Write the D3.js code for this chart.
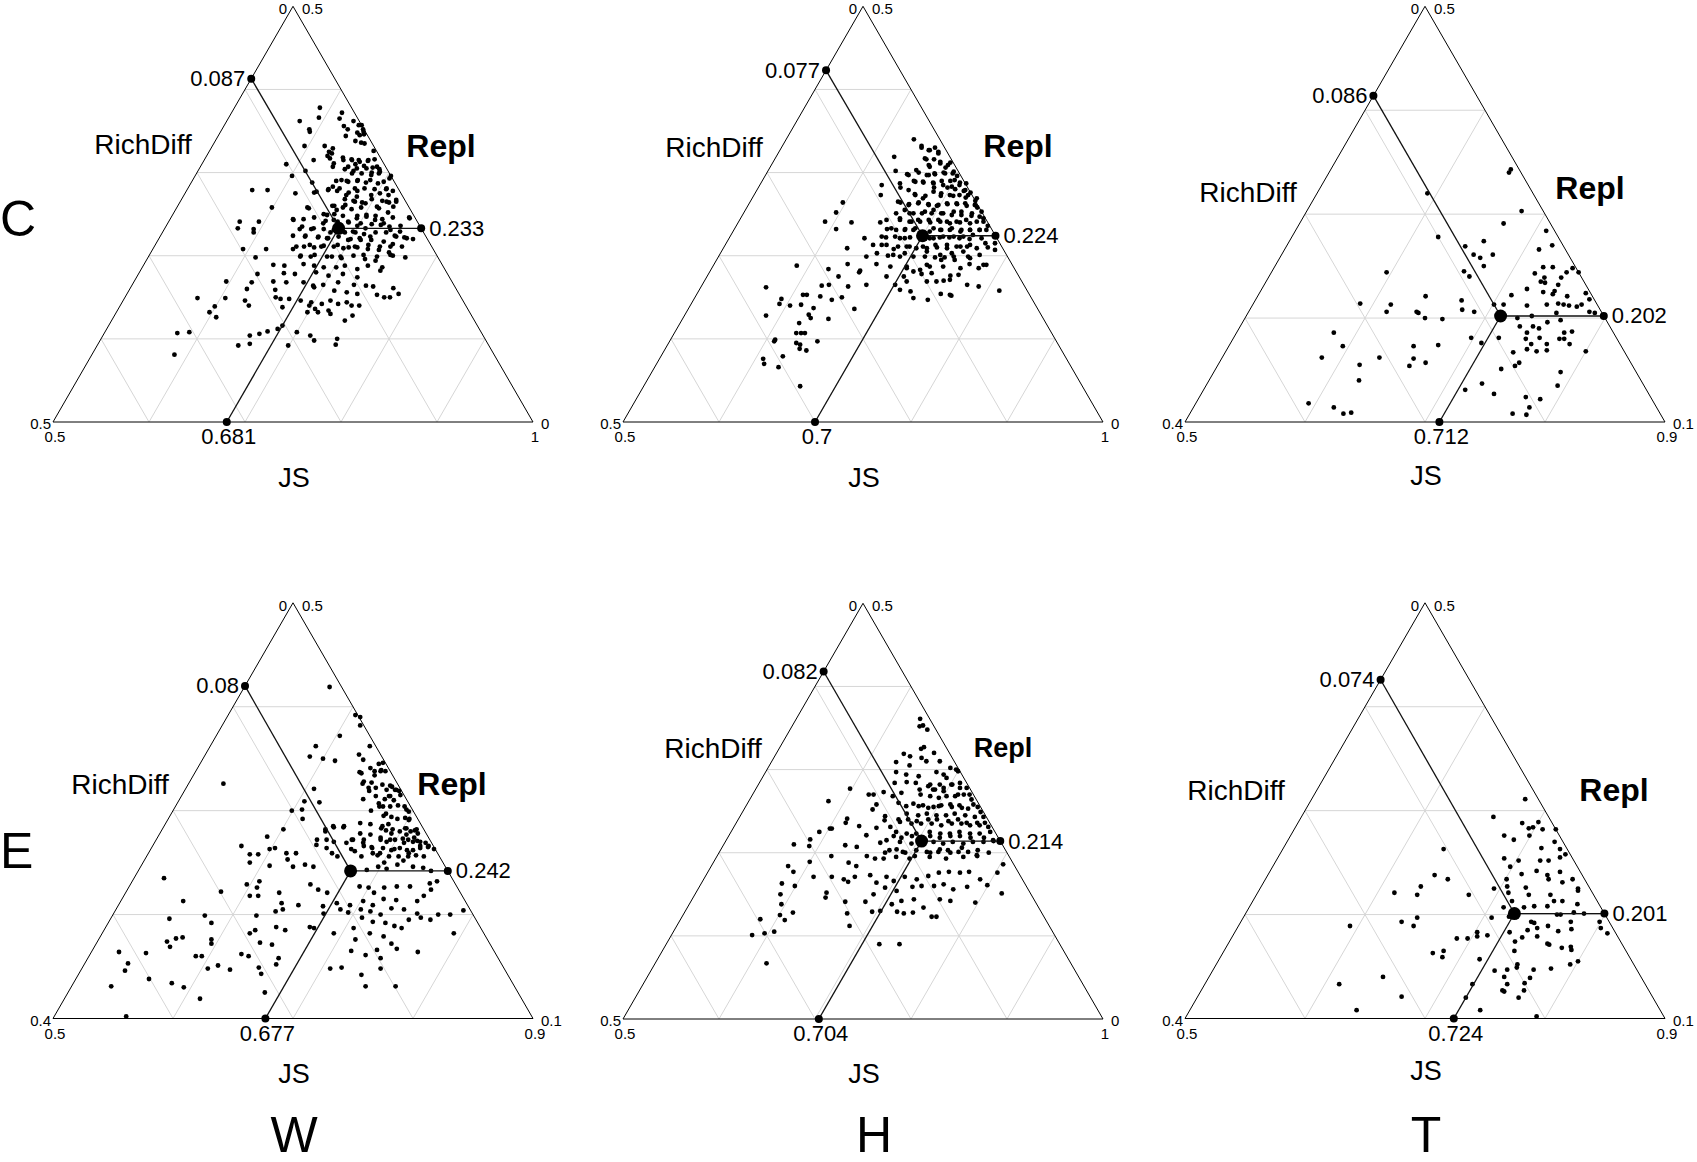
<!DOCTYPE html>
<html>
<head>
<meta charset="utf-8">
<script src="https://cdn.jsdelivr.net/npm/d3@7"></script>
<style>
  body { margin: 0; background: #fff; }
  svg { display: block; }
</style>
</head>
<body>
<svg id="chart" width="1697" height="1162"></svg>
<script>
// ---- data: each point is [JS, Repl]; RichDiff = 1 - JS - Repl ----
var rowNames = ["C", "E"];
var colNames = ["W", "H", "T"];
var axisNames = ["JS", "RichDiff", "Repl"];

var jsLimits   = [[0.5, 1], [0.5, 1], [0.5, 0.9], [0.5, 0.9], [0.5, 1], [0.5, 0.9]];
var richLimits = [[0, 0.5], [0, 0.5], [0, 0.4], [0, 0.4], [0, 0.5], [0, 0.4]];
var replLimits = [[0, 0.5], [0, 0.5], [0.1, 0.5], [0.1, 0.5], [0, 0.5], [0.1, 0.5]];

var meanJS   = [0.681, 0.7, 0.712, 0.677, 0.704, 0.724];
var meanRich = [0.087, 0.077, 0.086, 0.08, 0.082, 0.074];
var meanRepl = [0.233, 0.224, 0.202, 0.242, 0.214, 0.201];

var ptsCW = [[0.589,0.378],[0.576,0.362],[0.594,0.366],[0.591,0.352],[0.615,0.372],[0.616,0.365],[0.632,0.362],[0.640,0.357],[0.647,0.352],[0.625,0.356],[0.631,0.352],[0.643,0.348],[0.651,0.346],[0.633,0.344],[0.646,0.338],[0.653,0.336],[0.596,0.332],[0.617,0.332],[0.627,0.329],[0.625,0.325],[0.671,0.326],[0.626,0.320],[0.643,0.318],[0.653,0.316],[0.661,0.315],[0.671,0.314],[0.677,0.316],[0.614,0.315],[0.637,0.311],[0.660,0.310],[0.670,0.308],[0.680,0.306],[0.688,0.304],[0.588,0.310],[0.612,0.302],[0.652,0.304],[0.662,0.302],[0.682,0.300],[0.690,0.299],[0.704,0.296],[0.650,0.290],[0.661,0.290],[0.672,0.290],[0.682,0.288],[0.700,0.289],[0.647,0.280],[0.657,0.278],[0.670,0.276],[0.678,0.278],[0.695,0.280],[0.707,0.280],[0.715,0.278],[0.634,0.276],[0.615,0.275],[0.626,0.288],[0.601,0.296],[0.568,0.279],[0.584,0.279],[0.599,0.258],[0.670,0.268],[0.680,0.266],[0.690,0.264],[0.698,0.268],[0.710,0.266],[0.718,0.264],[0.725,0.265],[0.661,0.260],[0.673,0.258],[0.683,0.256],[0.692,0.258],[0.711,0.257],[0.723,0.252],[0.636,0.258],[0.657,0.250],[0.668,0.250],[0.678,0.248],[0.693,0.248],[0.702,0.249],[0.712,0.248],[0.721,0.244],[0.731,0.246],[0.748,0.246],[0.628,0.244],[0.639,0.244],[0.649,0.246],[0.574,0.241],[0.594,0.241],[0.663,0.242],[0.676,0.241],[0.688,0.240],[0.701,0.239],[0.713,0.238],[0.723,0.237],[0.733,0.235],[0.744,0.236],[0.576,0.233],[0.593,0.232],[0.595,0.228],[0.641,0.232],[0.653,0.232],[0.666,0.232],[0.682,0.230],[0.690,0.228],[0.701,0.228],[0.711,0.226],[0.722,0.228],[0.733,0.228],[0.744,0.224],[0.755,0.222],[0.765,0.220],[0.638,0.224],[0.651,0.224],[0.665,0.222],[0.675,0.221],[0.700,0.220],[0.711,0.219],[0.722,0.219],[0.736,0.217],[0.747,0.214],[0.594,0.208],[0.618,0.208],[0.646,0.208],[0.656,0.211],[0.667,0.210],[0.676,0.212],[0.690,0.213],[0.703,0.210],[0.712,0.210],[0.724,0.208],[0.736,0.207],[0.748,0.204],[0.612,0.198],[0.658,0.200],[0.669,0.199],[0.691,0.199],[0.702,0.197],[0.713,0.200],[0.727,0.196],[0.739,0.194],[0.768,0.198],[0.754,0.200],[0.635,0.189],[0.647,0.188],[0.666,0.190],[0.678,0.188],[0.689,0.186],[0.702,0.186],[0.710,0.188],[0.725,0.184],[0.734,0.188],[0.750,0.186],[0.624,0.178],[0.651,0.179],[0.663,0.178],[0.684,0.180],[0.699,0.176],[0.713,0.178],[0.730,0.174],[0.750,0.182],[0.596,0.169],[0.623,0.168],[0.645,0.169],[0.659,0.168],[0.677,0.168],[0.689,0.164],[0.699,0.165],[0.713,0.168],[0.731,0.165],[0.744,0.164],[0.752,0.163],[0.774,0.161],[0.622,0.160],[0.652,0.159],[0.691,0.162],[0.714,0.158],[0.728,0.156],[0.740,0.154],[0.761,0.153],[0.770,0.150],[0.776,0.150],[0.783,0.154],[0.576,0.149],[0.605,0.149],[0.627,0.146],[0.657,0.150],[0.663,0.148],[0.672,0.148],[0.685,0.146],[0.697,0.144],[0.709,0.142],[0.716,0.146],[0.726,0.142],[0.734,0.144],[0.599,0.139],[0.634,0.140],[0.670,0.138],[0.697,0.140],[0.705,0.136],[0.720,0.134],[0.741,0.140],[0.749,0.140],[0.597,0.132],[0.607,0.126],[0.699,0.132],[0.710,0.132],[0.724,0.130],[0.743,0.122],[0.748,0.128],[0.681,0.116],[0.678,0.112],[0.576,0.107],[0.588,0.108],[0.653,0.104],[0.662,0.106],[0.669,0.109],[0.700,0.108],[0.716,0.104],[0.723,0.098],[0.746,0.100],[0.647,0.092],[0.658,0.094],[0.699,0.092],[0.748,0.093],[0.586,0.081],[0.663,0.260],[0.681,0.234],[0.675,0.228],[0.699,0.236]];
// denser core, read from a closer look
var ptsCWcore = [[0.643,0.357],[0.647,0.345],[0.649,0.349],[0.593,0.349],[0.657,0.335],[0.629,0.323],[0.630,0.317],[0.645,0.315],[0.654,0.315],[0.663,0.313],[0.671,0.315],[0.638,0.307],[0.654,0.307],[0.664,0.305],[0.674,0.305],[0.684,0.307],[0.662,0.299],[0.672,0.299],[0.683,0.297],[0.690,0.301],[0.704,0.293],[0.655,0.291],[0.663,0.289],[0.672,0.291],[0.685,0.291],[0.695,0.287],[0.650,0.283],[0.658,0.281],[0.674,0.281],[0.684,0.281],[0.707,0.281],[0.636,0.277],[0.647,0.279],[0.669,0.273],[0.681,0.271],[0.695,0.273],[0.703,0.275],[0.713,0.273],[0.724,0.267],[0.638,0.257],[0.661,0.249],[0.668,0.255],[0.674,0.261],[0.682,0.265],[0.694,0.263],[0.708,0.259],[0.715,0.265],[0.725,0.259],[0.662,0.239],[0.671,0.243],[0.681,0.237],[0.687,0.241],[0.694,0.245],[0.703,0.247],[0.714,0.243],[0.725,0.239],[0.749,0.245],[0.629,0.243],[0.642,0.235],[0.655,0.233],[0.677,0.231],[0.688,0.229],[0.698,0.229],[0.709,0.233],[0.736,0.231],[0.747,0.229],[0.651,0.223],[0.665,0.223],[0.676,0.221],[0.686,0.223],[0.698,0.219],[0.709,0.221],[0.719,0.223],[0.746,0.223],[0.758,0.221],[0.648,0.211],[0.661,0.213],[0.674,0.211],[0.687,0.211],[0.698,0.209],[0.709,0.211],[0.722,0.213],[0.735,0.211],[0.746,0.211],[0.758,0.211],[0.658,0.199],[0.672,0.201],[0.686,0.199],[0.700,0.199],[0.723,0.201],[0.738,0.199],[0.751,0.201]];

var ptsCH = [[0.633,0.340],[0.645,0.332],[0.655,0.327],[0.660,0.330],[0.666,0.325],[0.623,0.319],[0.656,0.317],[0.666,0.316],[0.674,0.313],[0.685,0.312],[0.664,0.309],[0.683,0.306],[0.633,0.302],[0.647,0.298],[0.658,0.300],[0.670,0.297],[0.676,0.298],[0.684,0.300],[0.694,0.301],[0.700,0.296],[0.658,0.290],[0.669,0.288],[0.679,0.288],[0.687,0.290],[0.696,0.290],[0.707,0.288],[0.714,0.287],[0.627,0.285],[0.648,0.282],[0.683,0.282],[0.697,0.282],[0.706,0.280],[0.716,0.278],[0.724,0.276],[0.632,0.273],[0.667,0.274],[0.679,0.272],[0.695,0.272],[0.708,0.272],[0.722,0.270],[0.734,0.266],[0.597,0.264],[0.657,0.264],[0.667,0.262],[0.676,0.264],[0.687,0.262],[0.697,0.260],[0.707,0.262],[0.717,0.262],[0.728,0.260],[0.740,0.258],[0.596,0.252],[0.659,0.251],[0.673,0.251],[0.686,0.251],[0.696,0.251],[0.706,0.251],[0.718,0.249],[0.728,0.249],[0.739,0.248],[0.748,0.247],[0.590,0.241],[0.618,0.240],[0.648,0.240],[0.667,0.243],[0.680,0.241],[0.689,0.241],[0.700,0.240],[0.710,0.241],[0.721,0.239],[0.731,0.240],[0.742,0.239],[0.755,0.241],[0.606,0.232],[0.659,0.232],[0.669,0.231],[0.678,0.232],[0.687,0.231],[0.705,0.229],[0.715,0.231],[0.725,0.231],[0.737,0.229],[0.746,0.231],[0.756,0.231],[0.763,0.231],[0.641,0.221],[0.663,0.222],[0.678,0.221],[0.688,0.222],[0.709,0.221],[0.719,0.222],[0.729,0.222],[0.740,0.221],[0.751,0.220],[0.763,0.221],[0.780,0.215],[0.629,0.209],[0.654,0.213],[0.663,0.213],[0.678,0.208],[0.690,0.211],[0.701,0.209],[0.712,0.209],[0.722,0.210],[0.733,0.209],[0.742,0.211],[0.753,0.211],[0.764,0.209],[0.775,0.210],[0.654,0.199],[0.663,0.203],[0.676,0.200],[0.689,0.199],[0.703,0.199],[0.715,0.199],[0.726,0.198],[0.736,0.198],[0.745,0.199],[0.763,0.197],[0.771,0.201],[0.587,0.188],[0.622,0.184],[0.639,0.190],[0.656,0.182],[0.669,0.190],[0.685,0.187],[0.703,0.185],[0.718,0.183],[0.726,0.187],[0.740,0.187],[0.759,0.185],[0.766,0.190],[0.784,0.189],[0.778,0.185],[0.637,0.175],[0.656,0.180],[0.687,0.175],[0.705,0.175],[0.712,0.181],[0.722,0.178],[0.732,0.179],[0.753,0.176],[0.761,0.177],[0.625,0.164],[0.632,0.165],[0.653,0.163],[0.671,0.165],[0.701,0.165],[0.711,0.169],[0.732,0.169],[0.742,0.169],[0.749,0.170],[0.755,0.171],[0.776,0.165],[0.789,0.163],[0.568,0.162],[0.611,0.153],[0.615,0.153],[0.630,0.151],[0.644,0.147],[0.653,0.150],[0.709,0.159],[0.721,0.157],[0.754,0.154],[0.764,0.153],[0.813,0.158],[0.591,0.148],[0.592,0.142],[0.615,0.141],[0.630,0.137],[0.629,0.129],[0.604,0.140],[0.728,0.149],[0.744,0.147],[0.766,0.152],[0.673,0.136],[0.585,0.128],[0.633,0.125],[0.652,0.124],[0.624,0.119],[0.627,0.107],[0.632,0.107],[0.636,0.107],[0.609,0.099],[0.633,0.095],[0.638,0.093],[0.654,0.097],[0.609,0.097],[0.640,0.088],[0.648,0.086],[0.608,0.076],[0.612,0.070],[0.627,0.079],[0.629,0.066],[0.663,0.043]];
var ptsCHcore = [[0.646,0.330],[0.656,0.327],[0.658,0.316],[0.667,0.323],[0.675,0.311],[0.684,0.309],[0.666,0.307],[0.654,0.303],[0.649,0.297],[0.668,0.297],[0.675,0.299],[0.686,0.299],[0.694,0.299],[0.700,0.291],[0.660,0.289],[0.668,0.289],[0.680,0.287],[0.691,0.285],[0.701,0.283],[0.708,0.285],[0.717,0.279],[0.645,0.287],[0.658,0.279],[0.685,0.277],[0.694,0.275],[0.704,0.273],[0.714,0.273],[0.723,0.273],[0.734,0.269],[0.668,0.273],[0.678,0.269],[0.654,0.265],[0.667,0.261],[0.676,0.263],[0.688,0.261],[0.698,0.261],[0.706,0.263],[0.716,0.263],[0.725,0.263],[0.736,0.261],[0.747,0.253],[0.666,0.255],[0.677,0.251],[0.688,0.253],[0.696,0.255],[0.708,0.251],[0.718,0.253],[0.726,0.253],[0.738,0.251],[0.753,0.245],[0.653,0.243],[0.666,0.245],[0.678,0.241],[0.686,0.243],[0.697,0.243],[0.707,0.243],[0.717,0.241],[0.727,0.241],[0.736,0.243],[0.748,0.241],[0.762,0.236],[0.663,0.233],[0.678,0.231],[0.688,0.233],[0.707,0.233],[0.716,0.231],[0.726,0.233],[0.737,0.231],[0.746,0.231],[0.756,0.231],[0.658,0.223],[0.672,0.223],[0.683,0.221],[0.713,0.221],[0.722,0.223],[0.733,0.223],[0.743,0.223],[0.752,0.225],[0.668,0.213],[0.681,0.211],[0.693,0.211],[0.707,0.211],[0.719,0.213],[0.731,0.213],[0.746,0.211],[0.755,0.213],[0.770,0.215],[0.681,0.201],[0.692,0.203],[0.714,0.205],[0.730,0.201],[0.741,0.203],[0.752,0.205],[0.784,0.207],[0.702,0.187],[0.722,0.189],[0.734,0.195],[0.748,0.195],[0.760,0.199],[0.781,0.189]];

var ptsCT = [[0.650,0.340],[0.650,0.343],[0.592,0.320],[0.679,0.303],[0.670,0.291],[0.622,0.278],[0.649,0.269],[0.662,0.274],[0.709,0.284],[0.712,0.266],[0.721,0.270],[0.660,0.261],[0.667,0.258],[0.676,0.261],[0.674,0.250],[0.660,0.245],[0.667,0.240],[0.596,0.244],[0.724,0.249],[0.732,0.249],[0.749,0.248],[0.756,0.244],[0.720,0.243],[0.730,0.239],[0.746,0.244],[0.744,0.239],[0.729,0.235],[0.733,0.234],[0.745,0.232],[0.721,0.228],[0.736,0.225],[0.745,0.226],[0.745,0.223],[0.772,0.224],[0.758,0.221],[0.711,0.222],[0.640,0.221],[0.672,0.217],[0.778,0.218],[0.589,0.214],[0.615,0.213],[0.701,0.213],[0.709,0.213],[0.729,0.212],[0.745,0.213],[0.754,0.214],[0.759,0.213],[0.764,0.212],[0.771,0.211],[0.774,0.213],[0.615,0.206],[0.640,0.206],[0.642,0.205],[0.677,0.208],[0.688,0.206],[0.757,0.205],[0.784,0.206],[0.789,0.205],[0.650,0.200],[0.665,0.199],[0.727,0.200],[0.738,0.202],[0.754,0.196],[0.764,0.198],[0.733,0.192],[0.744,0.192],[0.742,0.186],[0.750,0.190],[0.773,0.186],[0.779,0.187],[0.581,0.186],[0.721,0.181],[0.698,0.181],[0.709,0.176],[0.744,0.180],[0.751,0.175],[0.755,0.181],[0.764,0.175],[0.772,0.180],[0.776,0.180],[0.783,0.175],[0.595,0.173],[0.654,0.173],[0.674,0.174],[0.740,0.167],[0.750,0.170],[0.759,0.168],[0.767,0.169],[0.800,0.168],[0.583,0.162],[0.631,0.162],[0.660,0.161],[0.750,0.157],[0.748,0.154],[0.618,0.155],[0.660,0.154],[0.672,0.157],[0.738,0.151],[0.789,0.148],[0.625,0.140],[0.718,0.131],[0.729,0.137],[0.744,0.127],[0.793,0.135],[0.772,0.124],[0.785,0.122],[0.594,0.118],[0.617,0.114],[0.628,0.108],[0.634,0.109],[0.780,0.114],[0.769,0.108],[0.781,0.107]];

var ptsEW = [[0.571,0.419],[0.606,0.392],[0.611,0.390],[0.615,0.382],[0.603,0.372],[0.633,0.362],[0.588,0.362],[0.588,0.352],[0.600,0.350],[0.611,0.348],[0.628,0.354],[0.634,0.349],[0.649,0.345],[0.652,0.346],[0.649,0.338],[0.637,0.337],[0.654,0.338],[0.645,0.328],[0.652,0.327],[0.669,0.324],[0.675,0.320],[0.679,0.319],[0.674,0.314],[0.670,0.304],[0.654,0.319],[0.662,0.314],[0.671,0.311],[0.529,0.326],[0.607,0.321],[0.605,0.309],[0.618,0.308],[0.653,0.311],[0.694,0.301],[0.665,0.300],[0.678,0.295],[0.691,0.292],[0.701,0.292],[0.599,0.300],[0.607,0.301],[0.612,0.292],[0.642,0.284],[0.650,0.284],[0.662,0.288],[0.671,0.287],[0.682,0.283],[0.692,0.282],[0.703,0.283],[0.712,0.282],[0.636,0.282],[0.601,0.282],[0.591,0.275],[0.574,0.266],[0.634,0.272],[0.663,0.272],[0.673,0.272],[0.686,0.274],[0.695,0.272],[0.708,0.269],[0.714,0.274],[0.723,0.266],[0.730,0.266],[0.736,0.263],[0.603,0.264],[0.599,0.263],[0.592,0.258],[0.585,0.258],[0.615,0.259],[0.623,0.259],[0.636,0.267],[0.646,0.264],[0.653,0.259],[0.659,0.256],[0.667,0.263],[0.676,0.266],[0.684,0.264],[0.693,0.259],[0.703,0.263],[0.717,0.259],[0.731,0.256],[0.701,0.250],[0.713,0.248],[0.716,0.252],[0.589,0.250],[0.607,0.247],[0.619,0.253],[0.627,0.246],[0.636,0.248],[0.644,0.246],[0.690,0.243],[0.698,0.246],[0.706,0.244],[0.727,0.246],[0.736,0.245],[0.744,0.242],[0.525,0.235],[0.579,0.222],[0.597,0.229],[0.606,0.232],[0.607,0.226],[0.628,0.221],[0.650,0.229],[0.659,0.224],[0.668,0.221],[0.692,0.227],[0.700,0.226],[0.707,0.221],[0.713,0.226],[0.723,0.227],[0.734,0.227],[0.749,0.230],[0.754,0.232],[0.552,0.213],[0.605,0.218],[0.612,0.218],[0.635,0.211],[0.650,0.209],[0.671,0.208],[0.681,0.211],[0.693,0.209],[0.702,0.213],[0.712,0.209],[0.718,0.215],[0.729,0.214],[0.747,0.213],[0.750,0.218],[0.753,0.224],[0.704,0.205],[0.713,0.203],[0.723,0.200],[0.729,0.206],[0.740,0.205],[0.753,0.201],[0.549,0.196],[0.577,0.199],[0.586,0.192],[0.620,0.199],[0.634,0.203],[0.639,0.205],[0.670,0.188],[0.675,0.201],[0.687,0.205],[0.695,0.202],[0.709,0.197],[0.720,0.193],[0.731,0.192],[0.740,0.189],[0.747,0.187],[0.749,0.195],[0.758,0.197],[0.767,0.195],[0.771,0.200],[0.781,0.200],[0.790,0.204],[0.564,0.177],[0.569,0.178],[0.563,0.169],[0.558,0.174],[0.594,0.176],[0.596,0.172],[0.623,0.182],[0.626,0.185],[0.636,0.173],[0.647,0.171],[0.642,0.188],[0.651,0.185],[0.674,0.187],[0.693,0.182],[0.707,0.187],[0.714,0.176],[0.723,0.182],[0.736,0.179],[0.746,0.172],[0.753,0.167],[0.737,0.166],[0.793,0.182],[0.772,0.164],[0.523,0.164],[0.546,0.163],[0.536,0.153],[0.537,0.146],[0.561,0.138],[0.533,0.131],[0.582,0.134],[0.594,0.130],[0.589,0.160],[0.594,0.160],[0.605,0.148],[0.612,0.151],[0.624,0.147],[0.626,0.162],[0.633,0.160],[0.647,0.149],[0.652,0.143],[0.660,0.152],[0.659,0.158],[0.613,0.119],[0.664,0.125],[0.707,0.148],[0.716,0.149],[0.716,0.165],[0.730,0.161],[0.744,0.158],[0.749,0.148],[0.736,0.142],[0.745,0.131],[0.770,0.131],[0.560,0.102],[0.718,0.271],[0.706,0.277],[0.686,0.287]];
var ptsEWcore = [[0.654,0.339],[0.651,0.334],[0.644,0.341],[0.658,0.338],[0.639,0.336],[0.645,0.326],[0.652,0.322],[0.658,0.322],[0.662,0.325],[0.668,0.320],[0.671,0.323],[0.676,0.320],[0.682,0.315],[0.673,0.314],[0.679,0.310],[0.668,0.307],[0.673,0.304],[0.679,0.304],[0.685,0.305],[0.691,0.304],[0.697,0.299],[0.679,0.297],[0.685,0.294],[0.697,0.293],[0.701,0.291],[0.682,0.285],[0.687,0.281],[0.693,0.278],[0.699,0.280],[0.702,0.283],[0.708,0.280],[0.711,0.281],[0.715,0.278],[0.687,0.272],[0.693,0.270],[0.699,0.272],[0.705,0.273],[0.710,0.272],[0.715,0.270],[0.721,0.270],[0.726,0.269],[0.693,0.264],[0.701,0.262],[0.707,0.264],[0.714,0.262],[0.719,0.262],[0.724,0.264],[0.730,0.265],[0.692,0.257],[0.702,0.256],[0.710,0.256],[0.718,0.256],[0.724,0.257],[0.667,0.278],[0.676,0.277],[0.664,0.272],[0.674,0.269],[0.683,0.265],[0.687,0.259],[0.671,0.261],[0.679,0.256],[0.650,0.285],[0.641,0.285],[0.637,0.280],[0.642,0.272],[0.649,0.270],[0.660,0.269]];

var ptsEH = [[0.629,0.361],[0.633,0.352],[0.636,0.353],[0.643,0.348],[0.648,0.325],[0.650,0.327],[0.633,0.319],[0.641,0.316],[0.664,0.320],[0.654,0.314],[0.661,0.310],[0.630,0.309],[0.646,0.305],[0.675,0.310],[0.690,0.302],[0.697,0.300],[0.636,0.297],[0.648,0.294],[0.662,0.292],[0.678,0.297],[0.687,0.294],[0.692,0.290],[0.700,0.298],[0.641,0.284],[0.653,0.285],[0.663,0.284],[0.679,0.282],[0.689,0.282],[0.701,0.282],[0.709,0.284],[0.719,0.278],[0.635,0.273],[0.647,0.268],[0.654,0.272],[0.671,0.276],[0.685,0.276],[0.697,0.274],[0.714,0.270],[0.726,0.270],[0.621,0.270],[0.626,0.270],[0.598,0.277],[0.583,0.262],[0.634,0.252],[0.635,0.258],[0.651,0.244],[0.657,0.260],[0.667,0.256],[0.680,0.256],[0.691,0.254],[0.701,0.256],[0.712,0.258],[0.726,0.254],[0.736,0.258],[0.748,0.249],[0.613,0.241],[0.614,0.236],[0.603,0.229],[0.592,0.225],[0.630,0.232],[0.649,0.230],[0.653,0.239],[0.663,0.231],[0.667,0.240],[0.677,0.240],[0.687,0.238],[0.698,0.240],[0.707,0.240],[0.720,0.238],[0.729,0.240],[0.740,0.236],[0.751,0.236],[0.759,0.236],[0.587,0.216],[0.573,0.210],[0.590,0.208],[0.601,0.229],[0.627,0.209],[0.640,0.207],[0.643,0.221],[0.662,0.212],[0.672,0.220],[0.681,0.218],[0.691,0.220],[0.710,0.220],[0.721,0.218],[0.731,0.220],[0.741,0.220],[0.753,0.218],[0.767,0.218],[0.779,0.214],[0.619,0.196],[0.600,0.189],[0.641,0.188],[0.651,0.184],[0.656,0.196],[0.666,0.193],[0.673,0.200],[0.683,0.204],[0.694,0.200],[0.706,0.196],[0.720,0.200],[0.728,0.204],[0.741,0.200],[0.750,0.206],[0.771,0.196],[0.781,0.200],[0.580,0.184],[0.589,0.177],[0.613,0.171],[0.632,0.171],[0.646,0.168],[0.652,0.165],[0.656,0.171],[0.671,0.173],[0.682,0.164],[0.689,0.171],[0.699,0.166],[0.708,0.171],[0.722,0.168],[0.732,0.172],[0.741,0.176],[0.751,0.177],[0.763,0.176],[0.772,0.177],[0.788,0.168],[0.802,0.176],[0.803,0.186],[0.584,0.163],[0.599,0.160],[0.636,0.152],[0.638,0.146],[0.661,0.141],[0.682,0.141],[0.686,0.150],[0.694,0.158],[0.708,0.154],[0.722,0.159],[0.731,0.160],[0.744,0.160],[0.753,0.162],[0.766,0.156],[0.779,0.159],[0.799,0.161],[0.819,0.151],[0.589,0.150],[0.596,0.138],[0.601,0.125],[0.613,0.128],[0.609,0.119],[0.670,0.127],[0.695,0.129],[0.703,0.130],[0.711,0.138],[0.719,0.142],[0.731,0.144],[0.746,0.134],[0.758,0.144],[0.770,0.142],[0.797,0.140],[0.721,0.129],[0.729,0.127],[0.738,0.128],[0.760,0.123],[0.765,0.123],[0.583,0.120],[0.584,0.101],[0.596,0.103],[0.605,0.105],[0.680,0.112],[0.722,0.090],[0.743,0.090],[0.616,0.067]];
var ptsEHcore = [[0.678,0.280],[0.687,0.276],[0.695,0.278],[0.702,0.282],[0.712,0.278],[0.675,0.270],[0.686,0.268],[0.696,0.266],[0.703,0.268],[0.712,0.268],[0.720,0.270],[0.731,0.264],[0.673,0.259],[0.684,0.257],[0.696,0.255],[0.703,0.257],[0.715,0.255],[0.722,0.257],[0.733,0.253],[0.742,0.255],[0.672,0.247],[0.685,0.245],[0.693,0.247],[0.704,0.245],[0.714,0.245],[0.722,0.247],[0.734,0.245],[0.745,0.243],[0.754,0.243],[0.670,0.237],[0.683,0.235],[0.693,0.235],[0.704,0.235],[0.715,0.233],[0.725,0.235],[0.735,0.235],[0.745,0.233],[0.755,0.233],[0.765,0.231],[0.672,0.225],[0.684,0.223],[0.694,0.223],[0.707,0.225],[0.719,0.223],[0.729,0.223],[0.738,0.225],[0.750,0.223],[0.760,0.223],[0.770,0.225],[0.667,0.215],[0.682,0.213],[0.695,0.211],[0.717,0.213],[0.728,0.211],[0.737,0.213],[0.749,0.211],[0.758,0.213],[0.769,0.213],[0.778,0.215],[0.676,0.203],[0.691,0.201],[0.704,0.203],[0.716,0.201],[0.728,0.201],[0.737,0.203],[0.749,0.201],[0.759,0.201],[0.768,0.203],[0.675,0.193],[0.687,0.195],[0.702,0.193],[0.722,0.195],[0.740,0.193],[0.757,0.195],[0.770,0.197]];

var ptsET = [[0.678,0.311],[0.660,0.294],[0.687,0.288],[0.695,0.283],[0.698,0.284],[0.700,0.289],[0.707,0.282],[0.718,0.282],[0.678,0.276],[0.688,0.272],[0.699,0.276],[0.715,0.264],[0.723,0.270],[0.731,0.263],[0.738,0.258],[0.634,0.263],[0.689,0.254],[0.702,0.252],[0.720,0.252],[0.727,0.252],[0.735,0.255],[0.698,0.246],[0.711,0.239],[0.722,0.242],[0.733,0.238],[0.742,0.241],[0.639,0.238],[0.652,0.234],[0.701,0.234],[0.736,0.234],[0.749,0.231],[0.756,0.234],[0.705,0.227],[0.721,0.226],[0.765,0.225],[0.766,0.223],[0.633,0.227],[0.614,0.221],[0.634,0.219],[0.677,0.219],[0.695,0.225],[0.709,0.221],[0.727,0.219],[0.745,0.219],[0.751,0.213],[0.758,0.213],[0.772,0.210],[0.712,0.207],[0.716,0.213],[0.729,0.207],[0.737,0.208],[0.748,0.208],[0.773,0.202],[0.782,0.201],[0.760,0.200],[0.763,0.200],[0.707,0.197],[0.634,0.193],[0.645,0.197],[0.646,0.189],[0.593,0.189],[0.721,0.198],[0.742,0.193],[0.745,0.192],[0.743,0.185],[0.750,0.187],[0.758,0.189],[0.769,0.184],[0.775,0.193],[0.779,0.186],[0.799,0.193],[0.803,0.187],[0.811,0.182],[0.702,0.183],[0.704,0.179],[0.712,0.180],[0.688,0.177],[0.697,0.177],[0.729,0.183],[0.738,0.174],[0.742,0.178],[0.754,0.179],[0.766,0.172],[0.768,0.171],[0.780,0.168],[0.787,0.169],[0.789,0.166],[0.675,0.163],[0.683,0.165],[0.685,0.159],[0.717,0.157],[0.742,0.165],[0.735,0.146],[0.745,0.147],[0.751,0.152],[0.752,0.149],[0.767,0.147],[0.781,0.148],[0.795,0.152],[0.800,0.155],[0.746,0.140],[0.752,0.133],[0.768,0.139],[0.766,0.134],[0.751,0.127],[0.753,0.126],[0.769,0.127],[0.768,0.120],[0.723,0.133],[0.724,0.120],[0.612,0.133],[0.645,0.140],[0.670,0.121],[0.639,0.108],[0.742,0.108],[0.792,0.102]];

var panelPoints = [
  ptsCW.concat(ptsCWcore), ptsCH.concat(ptsCHcore), ptsCT,
  ptsEW.concat(ptsEWcore), ptsEH.concat(ptsEHcore), ptsET
];

// ---- layout (pixels) ----
var FONT = '"Liberation Sans", Arial, Helvetica, sans-serif';
var W = 480, H = W * Math.sqrt(3) / 2;
var layout = [
  {x: 53,  y: 422,    rich: [90, 154], repl: [388, 157], replSize: 32, js: 487},
  {x: 623, y: 422,    rich: [91, 157], repl: [395, 157], replSize: 32, js: 487},
  {x: 1185, y: 422,   rich: [63, 202], repl: [405, 199], replSize: 32, js: 485},
  {x: 53,  y: 1018.5, rich: [67, 794], repl: [399, 795], replSize: 32, js: 1083},
  {x: 623, y: 1019,   rich: [90, 758], repl: [380, 757], replSize: 27, js: 1083},
  {x: 1185, y: 1018.5, rich: [51, 800], repl: [429, 801], replSize: 32, js: 1080}
];

var svg = d3.select("#chart").style("font-family", FONT);
svg.append("rect").attr("width", 1697).attr("height", 1162).attr("fill", "#fff");

function drawPanel(i) {
  var L = layout[i];
  var jsLo = jsLimits[i][0], jsHi = jsLimits[i][1];
  var rLo = replLimits[i][0], rHi = replLimits[i][1];
  var step = 0.1, nDiv = Math.round((jsHi - jsLo) / step);

  // barycentric weights via d3 scales, then onto the page
  var u = d3.scaleLinear().domain([jsLo, jsHi]).range([0, 1]);
  var v = d3.scaleLinear().domain([rLo, rHi]).range([0, 1]);
  var xs = d3.scaleLinear().domain([0, 1]).range([L.x, L.x + W]);
  var ys = d3.scaleLinear().domain([0, 1]).range([L.y, L.y - H]);
  function pos(js, repl) { return [xs(u(js) + v(repl) / 2), ys(v(repl))]; }

  var g = svg.append("g");
  var line = d3.line();

  // grid
  var grid = [];
  d3.range(1, nDiv).forEach(function (k) {
    var r = rLo + k * step, j = jsLo + k * step, d = richLimits[i][0] + k * step;
    grid.push([pos(jsLo, r), pos(1 - r, r)]);
    grid.push([pos(j, rLo), pos(j, 1 - j)]);
    grid.push([pos(jsLo, 1 - jsLo - d), pos(1 - rLo - d, rLo)]);
  });
  g.selectAll("path.grid").data(grid).enter().append("path")
    .attr("class", "grid").attr("d", line)
    .attr("fill", "none").attr("stroke", "#d6d6d6").attr("stroke-width", 1);

  // triangle
  var A = pos(jsLo, rLo), B = pos(jsHi, rLo), T = pos(jsLo, rHi);
  g.append("path").attr("d", line([A, B, T]) + "Z")
    .attr("fill", "none").attr("stroke", "#000").attr("stroke-width", 1);

  // points
  g.selectAll("circle.pt").data(panelPoints[i]).enter().append("circle")
    .attr("class", "pt")
    .attr("cx", function (p) { return pos(p[0], p[1])[0]; })
    .attr("cy", function (p) { return pos(p[0], p[1])[1]; })
    .attr("r", 2.4).attr("fill", "#000");

  // mean and its projections on the three edges
  var M = pos(meanJS[i], meanRepl[i]);
  var eRich = pos(jsLo, 1 - jsLo - meanRich[i]);
  var eJS = pos(meanJS[i], rLo);
  var eRepl = pos(1 - meanRepl[i], meanRepl[i]);
  [eRich, eJS, eRepl].forEach(function (e) {
    g.append("path").attr("d", line([M, e]))
      .attr("stroke", "#111").attr("stroke-width", 1.3).attr("fill", "none");
    g.append("circle").attr("cx", e[0]).attr("cy", e[1]).attr("r", 4).attr("fill", "#000");
  });
  g.append("circle").attr("cx", M[0]).attr("cy", M[1]).attr("r", 6.5).attr("fill", "#000");

  g.append("text").attr("x", eRich[0] - 6).attr("y", eRich[1] + 7.5)
    .attr("text-anchor", "end").attr("font-size", 22).text(String(meanRich[i]));
  g.append("text").attr("x", eRepl[0] + 8).attr("y", eRepl[1] + 7.5)
    .attr("font-size", 22).text(String(meanRepl[i]));
  g.append("text").attr("x", eJS[0] + 2).attr("y", eJS[1] + 22)
    .attr("text-anchor", "middle").attr("font-size", 22).text(String(meanJS[i]));

  // vertex tick labels
  var fs = 15;
  g.append("text").attr("x", T[0] - 6).attr("y", T[1] + 8).attr("text-anchor", "end")
    .attr("font-size", fs).text(String(richLimits[i][0]));
  g.append("text").attr("x", T[0] + 9).attr("y", T[1] + 8)
    .attr("font-size", fs).text(String(rHi));
  g.append("text").attr("x", A[0] - 2).attr("y", A[1] + 7).attr("text-anchor", "end")
    .attr("font-size", fs).text(String(richLimits[i][1]));
  g.append("text").attr("x", A[0] + 2).attr("y", A[1] + 20).attr("text-anchor", "middle")
    .attr("font-size", fs).text(String(jsLo));
  g.append("text").attr("x", B[0] + 8).attr("y", B[1] + 7)
    .attr("font-size", fs).text(String(rLo));
  g.append("text").attr("x", B[0] + 2).attr("y", B[1] + 20).attr("text-anchor", "middle")
    .attr("font-size", fs).text(String(jsHi));

  // axis titles
  g.append("text").attr("x", L.x + L.rich[0]).attr("y", L.rich[1])
    .attr("text-anchor", "middle").attr("font-size", 28).text(axisNames[1]);
  g.append("text").attr("x", L.x + L.repl[0]).attr("y", L.repl[1])
    .attr("text-anchor", "middle").attr("font-size", L.replSize)
    .attr("font-weight", "bold").text(axisNames[2]);
  g.append("text").attr("x", L.x + 241).attr("y", L.js)
    .attr("text-anchor", "middle").attr("font-size", 27).text(axisNames[0]);
}

d3.range(6).forEach(drawPanel);

// row and column names
svg.selectAll("text.row").data(rowNames).enter().append("text")
  .attr("class", "row").attr("x", 0)
  .attr("y", function (d, i) { return [236, 868][i]; })
  .attr("font-size", 50).text(function (d) { return d; });
svg.selectAll("text.col").data(colNames).enter().append("text")
  .attr("class", "col").attr("text-anchor", "middle")
  .attr("x", function (d, i) { return [294, 874, 1426][i]; })
  .attr("y", 1152)
  .attr("font-size", 50).text(function (d) { return d; });
</script>
</body>
</html>
